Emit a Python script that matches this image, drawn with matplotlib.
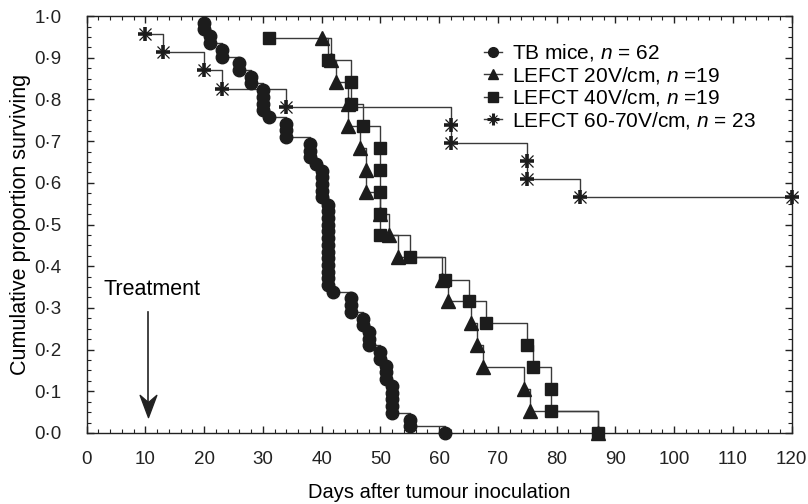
import matplotlib
matplotlib.use('Agg')
import matplotlib.pyplot as plt
from matplotlib.ticker import MultipleLocator, FuncFormatter
from matplotlib.lines import Line2D
from matplotlib.path import Path
from matplotlib.legend_handler import HandlerTuple

plt.rcParams['font.family'] = ['Liberation Sans', 'DejaVu Sans']
plt.rcParams['mathtext.fontset'] = 'custom'
plt.rcParams['mathtext.it'] = 'Liberation Sans:italic'
plt.rcParams['mathtext.rm'] = 'Liberation Sans'

# ---- data ----
tb_days = [20, 20, 21, 21, 23, 23, 26, 26, 28, 28,
           30, 30, 30, 30, 31, 34, 34, 34, 38, 38,
           38, 39, 40, 40, 40, 40, 40, 41, 41, 41,
           41, 41, 41, 41, 41, 41, 41, 41, 41, 41,
           42, 45, 45, 45, 47, 47, 48, 48, 48, 50,
           50, 51, 51, 51, 52, 52, 52, 52, 52, 55,
           55, 61]
tb_surv = [0.984, 0.968, 0.952, 0.935, 0.919, 0.903, 0.887, 0.871, 0.855, 0.839,
           0.823, 0.806, 0.790, 0.774, 0.758, 0.742, 0.726, 0.710, 0.694, 0.677,
           0.661, 0.645, 0.629, 0.613, 0.597, 0.581, 0.565, 0.548, 0.532, 0.516,
           0.500, 0.484, 0.468, 0.452, 0.435, 0.419, 0.403, 0.387, 0.371, 0.355,
           0.339, 0.323, 0.306, 0.290, 0.274, 0.258, 0.242, 0.226, 0.210, 0.194,
           0.177, 0.161, 0.145, 0.129, 0.113, 0.097, 0.081, 0.065, 0.048, 0.032,
           0.016, 0.000]

v20_days = [40, 41.5, 42.5, 44.5, 44.5, 46.5, 47.5, 47.5, 50, 51.5,
            53, 60.5, 61.5, 65.5, 66.5, 67.5, 74.5, 75.5, 87]
v20_surv = [0.947, 0.895, 0.842, 0.789, 0.737, 0.684, 0.632, 0.579, 0.526, 0.474,
            0.421, 0.368, 0.316, 0.263, 0.211, 0.158, 0.105, 0.053, 0.000]

v40_days = [31, 41, 45, 45, 47, 50, 50, 50, 50, 50,
            55, 61, 65, 68, 75, 76, 79, 79, 87]
v40_surv = [0.947, 0.895, 0.842, 0.789, 0.737, 0.684, 0.632, 0.579, 0.526, 0.474,
            0.421, 0.368, 0.316, 0.263, 0.211, 0.158, 0.105, 0.053, 0.000]

v60_days = [10, 13, 20, 23, 34, 62, 62, 75, 75, 84, 120]
v60_surv = [0.957, 0.913, 0.870, 0.826, 0.783, 0.739, 0.696, 0.652, 0.609, 0.565, 0.565]

labels = ['TB mice, $n$ = 62', 'LEFCT 20V/cm, $n$ =19',
          'LEFCT 40V/cm, $n$ =19', 'LEFCT 60-70V/cm, $n$ = 23']

x_ticks = list(range(0, 121, 10))
y_ticks = [i / 10 for i in range(0, 11)]

treatment_day = 10.5

# ---- drawing ----
LINE = '#3a3a3a'
MK = '#1c1c1c'

fig = plt.figure(figsize=(8.08, 5.04), dpi=100)
ax = fig.add_axes([0.1073, 0.141, 0.8725, 0.827])

for d, s in [(tb_days, tb_surv), (v20_days, v20_surv), (v40_days, v40_surv), (v60_days, v60_surv)]:
    ax.plot(d, s, drawstyle='steps-post', color=LINE, lw=1.0, zorder=2)

ax.plot(tb_days, tb_surv, ls='none', marker='o', ms=9, color=MK, mec=MK, zorder=3, clip_on=False)
ax.plot(v20_days, v20_surv, ls='none', marker='^', ms=10, color=MK, mec=MK, zorder=3, clip_on=False)
ax.plot(v40_days, v40_surv, ls='none', marker='s', ms=8.5, color=MK, mec=MK, zorder=3, clip_on=False)
ax.plot(v60_days, v60_surv, ls='none', marker='+', ms=10, mew=2.6, color=MK, zorder=3, clip_on=False)
ax.plot(v60_days, v60_surv, ls='none', marker='x', ms=8, mew=0.9, color=MK, zorder=3, clip_on=False)

ax.set_xlim(0, 120)
ax.set_ylim(0, 1.0)
ax.set_xticks(x_ticks)
ax.set_yticks(y_ticks)
ax.xaxis.set_minor_locator(MultipleLocator(2))
ax.yaxis.set_minor_locator(MultipleLocator(0.025))
ax.yaxis.set_major_formatter(FuncFormatter(lambda v, p: f'{v:.1f}'.replace('.', '\u00b7')))
ax.tick_params(which='both', direction='in', top=True, right=True, labelsize=13.5, colors='#222222')
ax.tick_params(which='major', length=5, width=1.0)
ax.tick_params(which='minor', length=3, width=0.8)
ax.tick_params(axis='x', which='major', pad=13)
ax.tick_params(axis='y', which='major', pad=18)
for sp in ax.spines.values():
    sp.set_linewidth(1.0)
    sp.set_color('#222222')

ax.set_xlabel('Days after tumour inoculation', fontsize=14.5, labelpad=11)
ax.set_ylabel('Cumulative proportion surviving', fontsize=15.5, labelpad=2.5)

ax.text(2.8, 0.343, 'Treatment', fontsize=15.5, ha='left', va='center')
# arrow shaft + barbed head
ax.plot([treatment_day, treatment_day], [0.29, 0.07], color='#222222', lw=1.2, zorder=2)
head = Path([(0, -1), (-0.75, 1.0), (0, 0.35), (0.75, 1.0), (0, -1)],
            [Path.MOVETO, Path.LINETO, Path.LINETO, Path.LINETO, Path.CLOSEPOLY])
ax.plot([treatment_day], [0.064], ls='none', marker=head, ms=16, color='#222222', mec='#222222', zorder=3)

h_tb = Line2D([], [], color=LINE, lw=1, marker='o', ms=7, mfc=MK, mec=MK)
h_20 = Line2D([], [], color=LINE, lw=1, marker='^', ms=7.5, mfc=MK, mec=MK)
h_40 = Line2D([], [], color=LINE, lw=1, marker='s', ms=6.5, mfc=MK, mec=MK)
h_60a = Line2D([], [], color=LINE, lw=1, marker='+', ms=8, mew=2.2, mec=MK)
h_60b = Line2D([], [], color=LINE, lw=0, marker='x', ms=6, mew=0.8, mec=MK)
ax.legend([h_tb, h_20, h_40, (h_60a, h_60b)], labels,
          handler_map={tuple: HandlerTuple(ndivide=1)},
          loc='upper left', bbox_to_anchor=(0.563, 0.937), frameon=False,
          fontsize=15, handlelength=0.9, handletextpad=0.45, labelspacing=0.07,
          borderpad=0, borderaxespad=0)

fig.savefig('out.png', dpi=100)
